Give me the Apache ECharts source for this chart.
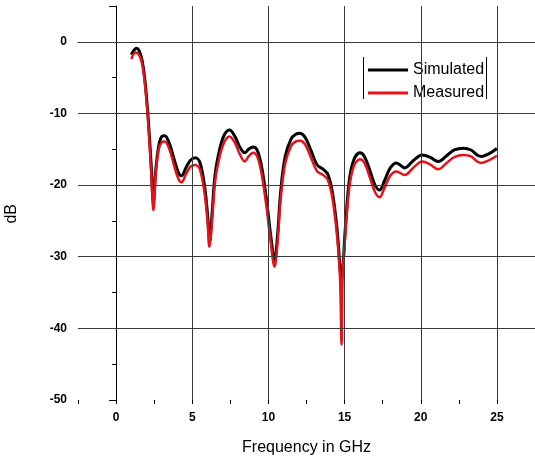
<!DOCTYPE html>
<html>
<head>
<meta charset="utf-8">
<script src="https://cdn.jsdelivr.net/npm/echarts@6/dist/echarts.min.js"></script>
<style>html,body{margin:0;padding:0;background:#fff}#c{width:535px;height:461px}</style>
</head>
<body>
<div id="c"></div>
<script>
// Frequency (GHz) / dB values
var simFreq = [1.0,1.2,1.35,1.5,1.7,1.9,2.1,2.3,2.45,2.6,2.8,3.0,3.2,3.5,3.8,4.1,4.3,4.6,4.9,5.2,5.5,5.8,6.0,6.15,6.3,6.5,6.8,7.1,7.45,7.8,8.1,8.45,8.7,9.0,9.3,9.6,9.9,10.15,10.4,10.6,10.8,11.1,11.5,11.8,12.05,12.4,12.8,13.2,13.6,13.9,14.2,14.5,14.8,15.05,15.3,15.6,16.0,16.3,16.7,17.0,17.3,17.6,18.0,18.4,18.95,19.5,20.1,20.6,21.15,21.7,22.2,22.8,23.3,23.7,24.0,24.5,25.0];
var simValues = [-1.8,-1.1,-0.9,-1.2,-2.5,-5.5,-10.5,-17,-22.5,-18,-14.5,-13.2,-13.1,-14.2,-16.3,-18.3,-18.7,-17.5,-16.5,-16.2,-16.8,-20,-24,-27.8,-24,-18.5,-15,-13,-12.3,-13.2,-14.6,-15.5,-15.0,-14.7,-15.3,-18,-22.5,-27,-30.5,-27,-21,-16,-13.5,-12.9,-12.75,-13.3,-15.2,-17.2,-17.8,-18.5,-21,-26,-33,-26,-19.5,-16.5,-15.5,-16.0,-18.2,-20.0,-20.7,-19.5,-17.6,-16.9,-17.6,-16.6,-15.8,-16.1,-16.7,-15.9,-15.1,-14.85,-15.1,-15.8,-16.0,-15.6,-14.9];
var measFreq = [1.0,1.15,1.3,1.5,1.7,1.9,2.1,2.3,2.45,2.6,2.8,3.0,3.2,3.5,3.8,4.1,4.3,4.6,4.9,5.2,5.5,5.8,6.0,6.12,6.3,6.5,6.8,7.1,7.45,7.8,8.1,8.45,8.7,9.0,9.3,9.6,9.9,10.15,10.4,10.6,10.8,11.1,11.5,11.8,12.05,12.4,12.8,13.2,13.6,13.9,14.2,14.5,14.7,14.8,14.87,15.05,15.3,15.6,16.0,16.3,16.7,17.0,17.3,17.6,18.0,18.4,18.95,19.5,20.1,20.6,21.15,21.7,22.2,22.8,23.3,23.7,24.0,24.5,25.0];
var measValues = [-2.4,-1.7,-1.5,-1.8,-3,-6,-11,-18,-23.5,-18.5,-15,-14.0,-13.9,-15.0,-17.2,-19.2,-19.6,-18.4,-17.4,-17.2,-17.8,-21,-25,-28.6,-25,-19.5,-16,-14,-13.2,-14.1,-15.6,-16.7,-16.0,-15.5,-16.2,-19,-23.5,-28,-31.4,-28,-22,-17,-14.5,-13.9,-13.8,-14.3,-16.2,-18.1,-18.6,-19.3,-21.8,-27,-33,-42.3,-33,-27,-20.5,-17.4,-16.4,-16.9,-19.2,-21.0,-21.7,-20.5,-18.7,-18.1,-18.6,-17.6,-16.7,-17.1,-17.8,-16.9,-16.1,-15.8,-16.0,-16.7,-16.9,-16.5,-15.9];
var xMajorTicks = [0,5,10,15,20,25];
var xGridLines = [5,10,15,20,25];
var yGridLines = [0,-10,-20,-30,-40];

function pairs(xs, ys){ return xs.map(function(x,i){ return [x, ys[i]]; }); }

var FONT = 'Arial, "Liberation Sans", sans-serif';
var chart = echarts.init(document.getElementById('c'), null, {renderer:'canvas'});
var gridMarks = xGridLines.map(function(v){ return {xAxis: v}; }).concat(yGridLines.map(function(v){ return {yAxis: v}; }));

chart.setOption({
  animation: false,
  backgroundColor: '#fff',
  grid: {left: 78, right: 0, top: 6, bottom: 61, containLabel: false},
  legend: {
    left: 363, top: 57, orient: 'vertical', itemWidth: 40, itemHeight: 3, itemGap: 7,
    icon: 'rect',
    textStyle: {fontFamily: FONT, fontSize: 16, color: '#000', lineHeight: 16},
    data: ['Simulated', 'Measured']
  },
  xAxis: [{
    type: 'value', min: -2.5, max: 27.5,
    name: 'Frequency in GHz', nameLocation: 'middle', nameGap: 40,
    nameTextStyle: {fontFamily: FONT, fontSize: 16, color: '#000'},
    axisLine: {show: true, lineStyle: {color: '#000', width: 1}},
    axisTick: {show: true, length: 8, customValues: xMajorTicks, lineStyle: {color: '#000'}},
    axisLabel: {customValues: xMajorTicks, margin: 12, fontFamily: FONT, fontSize: 12, fontWeight: 'bold', color: '#000'},
    splitLine: {show: false}
  }, {
    type: 'value', min: -2.5, max: 27.5, interval: 2.5, position: 'bottom',
    axisLine: {show: false}, axisTick: {show: true, length: 4, lineStyle: {color: '#000'}},
    axisLabel: {show: false}, splitLine: {show: false}
  }],
  yAxis: {
    type: 'value', min: -50, max: 5, interval: 10,
    axisLine: {show: true, lineStyle: {color: '#000', width: 1}},
    axisTick: {show: true, length: 7, lineStyle: {color: '#000'}},
    minorTick: {show: true, splitNumber: 2, length: 4, lineStyle: {color: '#000'}},
    axisLabel: {margin: 11, fontFamily: FONT, fontSize: 12, fontWeight: 'bold', color: '#000',
      formatter: function(v){ return (v % 10 === 0) ? String(v) : ''; }},
    splitLine: {show: false}
  },
  graphic: [
    {type: 'text', left: 4, top: 204, rotation: Math.PI/2, style: {text: 'dB', font: '16px ' + FONT, fill: '#000'}},
    {type: 'line', shape: {x1: 363.5, y1: 57, x2: 363.5, y2: 99}, style: {stroke: '#000', lineWidth: 1}},
    {type: 'line', shape: {x1: 486.5, y1: 57, x2: 486.5, y2: 99}, style: {stroke: '#000', lineWidth: 1}}
  ],
  series: [{
    type: 'line', name: 'grid', data: [], silent: true,
    markLine: {silent: true, symbol: 'none', label: {show: false}, animation: false,
      lineStyle: {color: '#3a3a3a', width: 1, type: 'solid'}, emphasis: {disabled: true},
      data: gridMarks}
  }, {
    type: 'line', name: 'Simulated', data: pairs(simFreq, simValues), smooth: 0.35, showSymbol: false,
    lineStyle: {color: '#000', width: 3}, itemStyle: {color: '#000'}
  }, {
    type: 'line', name: 'Measured', data: pairs(measFreq, measValues), smooth: 0.35, showSymbol: false,
    lineStyle: {color: '#e3121b', width: 2.5}, itemStyle: {color: '#e3121b'}
  }]
});
</script>
</body>
</html>
